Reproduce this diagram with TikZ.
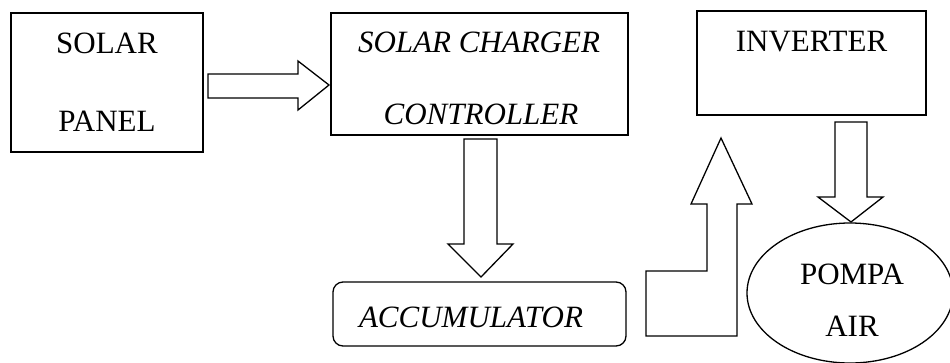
\documentclass[tikz,border=0pt]{standalone}
\usepackage{fontspec}
\setmainfont{Liberation Serif}
\begin{document}
\begin{tikzpicture}[x=1pt,y=-1pt,
  lw/.style={line width=1.3pt},
  box/.style={draw,lw,inner sep=0pt},
  lbl/.style={inner sep=0pt,font=\fontsize{31}{37}\selectfont},
  blockarrow/.style={draw,lw,line join=miter,fill=white}]
\useasboundingbox (0,0) rectangle (950,362);
\clip (0,0) rectangle (950,362);
% boxes
\node[box,minimum width=192pt,minimum height=139pt] (panel) at (107,82.5) {};
\node[box,minimum width=297pt,minimum height=122pt] (ctrl) at (479.5,74) {};
\node[box,rounded corners=10pt,minimum width=293pt,minimum height=64pt] (acc) at (479.5,314) {};
\node[box,minimum width=229pt,minimum height=104pt] (inv) at (811.5,63) {};
\draw[lw] (850,293) ellipse [x radius=103, y radius=70];
\coordinate (pump) at (850,293);
% labels
\node[lbl] (t1) at (107,43) {SOLAR};
\node[lbl] (t2) at (107,121) {PANEL};
\node[lbl] (t3) at (479,42) {\itshape SOLAR CHARGER};
\node[lbl] (t4) at (481,114) {\itshape CONTROLLER};
\node[lbl] (t5) at (471,317) {\itshape ACCUMULATOR};
\node[lbl] (t6) at (811.5,42) {INVERTER};
\node[lbl] (t7) at (852,274) {POMPA};
\node[lbl] (t8) at (852,326) {AIR};
% block arrows
\draw[blockarrow] (208,74) -- (298,74) -- (298,61) -- (329,85) -- (298,110) -- (298,98) -- (208,98) -- cycle;
\draw[blockarrow] (464,139) -- (497,139) -- (497,244) -- (513,244) -- (481,277) -- (448,244) -- (464,244) -- cycle;
\draw[blockarrow] (835,122) -- (867,122) -- (867,197) -- (883,197) -- (851,222) -- (818,197) -- (835,197) -- cycle;
\draw[blockarrow] (646,336) -- (646,271) -- (707,271) -- (707,204) -- (691,204) -- (721,138) -- (752,204) -- (737,204) -- (737,336) -- cycle;
\end{tikzpicture}
\end{document}
